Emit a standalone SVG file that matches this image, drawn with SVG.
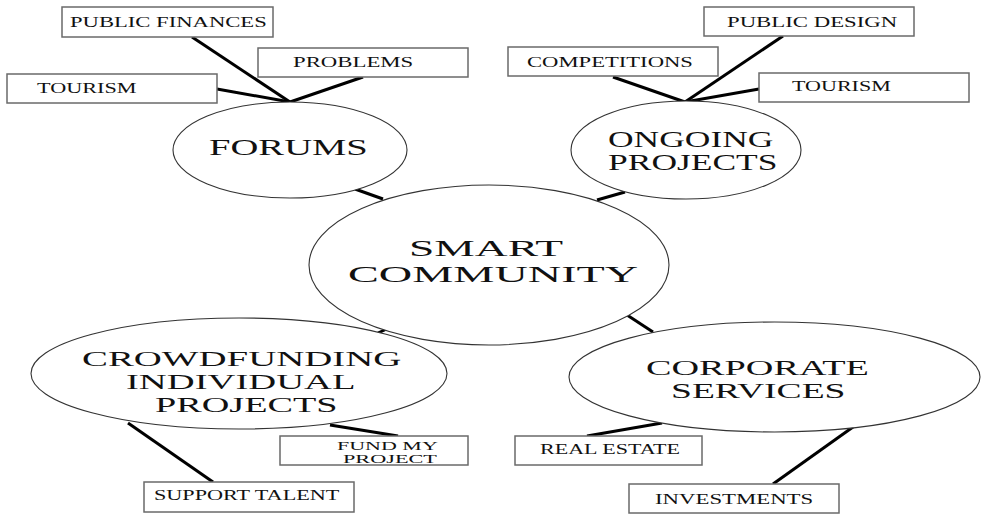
<svg xmlns="http://www.w3.org/2000/svg" width="981" height="514" viewBox="0 0 981 514">
  <style>
    .bubble { fill: #ffffff; stroke: #333333; stroke-width: 1.1; }
    .box { fill: #ffffff; stroke: #6a6a6a; stroke-width: 1.5; }
    .link { stroke: #000000; stroke-width: 3; stroke-linecap: butt; fill: none; }
    text { font-family: "Liberation Serif", "Times New Roman", serif; fill: #111111; }
    .big { font-size: 23px; }
    .mid { font-size: 21px; }
    .tall { font-size: 23.5px; }
    .small { font-size: 15px; }
    .tiny { font-size: 12.5px; }
  </style>
  <rect x="0" y="0" width="981" height="514" fill="#ffffff"/>

  <!-- connectors -->
  <g id="connectors">
    <line class="link" x1="192" y1="37" x2="290" y2="102"/>
    <line class="link" x1="363" y1="77" x2="290" y2="102"/>
    <line class="link" x1="217" y1="89" x2="290" y2="102"/>
    <line class="link" x1="613" y1="77" x2="685" y2="102"/>
    <line class="link" x1="783" y1="36" x2="685" y2="102"/>
    <line class="link" x1="759" y1="89" x2="685" y2="102"/>
    <line class="link" x1="355" y1="189" x2="383" y2="199"/>
    <line class="link" x1="625" y1="192" x2="597" y2="200"/>
    <line class="link" x1="378" y1="333" x2="391" y2="327"/>
    <line class="link" x1="627" y1="315" x2="653" y2="332"/>
    <line class="link" x1="330" y1="425" x2="398" y2="436"/>
    <line class="link" x1="128" y1="423" x2="213" y2="482"/>
    <line class="link" x1="662" y1="423" x2="587" y2="436"/>
    <line class="link" x1="853" y1="427" x2="773" y2="484"/>
  </g>

  <!-- central node -->
  <g id="smart-community">
    <ellipse class="bubble" cx="489" cy="265" rx="180" ry="80"/>
    <text class="big" transform="translate(409 256) scale(1.98 1)">SMART</text>
    <text class="big" transform="translate(348 282) scale(2.01 1)">COMMUNITY</text>
  </g>

  <g id="forums">
    <ellipse class="bubble" cx="290" cy="150" rx="117" ry="48"/>
    <text class="big" transform="translate(209 155) scale(1.68 1)">FORUMS</text>
  </g>

  <g id="ongoing-projects">
    <ellipse class="bubble" cx="686" cy="150" rx="115" ry="49"/>
    <text class="tall" transform="translate(608 147) scale(1.51 1)">ONGOING</text>
    <text class="tall" transform="translate(608 170) scale(1.51 1)">PROJECTS</text>
  </g>

  <g id="crowdfunding">
    <ellipse class="bubble" cx="239" cy="373.5" rx="208" ry="55.5"/>
    <text class="mid" transform="translate(82 366) scale(1.85 1)">CROWDFUNDING</text>
    <text class="mid" transform="translate(126 388.5) scale(1.84 1)">INDIVIDUAL</text>
    <text class="mid" transform="translate(155 412) scale(1.82 1)">PROJECTS</text>
  </g>

  <g id="corporate-services">
    <ellipse class="bubble" cx="774.5" cy="377" rx="205.5" ry="55"/>
    <text class="mid" transform="translate(646 375) scale(1.82 1)">CORPORATE</text>
    <text class="mid" transform="translate(671 398) scale(1.79 1)">SERVICES</text>
  </g>

  <!-- leaf boxes -->
  <g id="public-finances">
    <rect class="box" x="62" y="7" width="211" height="30"/>
    <text class="small" transform="translate(70 27) scale(1.51 1)">PUBLIC FINANCES</text>
  </g>
  <g id="problems">
    <rect class="box" x="258" y="48" width="210" height="29"/>
    <text class="small" transform="translate(293 67) scale(1.52 1)">PROBLEMS</text>
  </g>
  <g id="tourism-forums">
    <rect class="box" x="7" y="74" width="210" height="29"/>
    <text class="small" transform="translate(37 93) scale(1.48 1)">TOURISM</text>
  </g>
  <g id="public-design">
    <rect class="box" x="704" y="7" width="210" height="29"/>
    <text class="small" transform="translate(727 27) scale(1.52 1)">PUBLIC DESIGN</text>
  </g>
  <g id="competitions">
    <rect class="box" x="508" y="47" width="210" height="29"/>
    <text class="small" transform="translate(527 67) scale(1.51 1)">COMPETITIONS</text>
  </g>
  <g id="tourism-projects">
    <rect class="box" x="759" y="73" width="210" height="29"/>
    <text class="small" transform="translate(792 91) scale(1.47 1)">TOURISM</text>
  </g>
  <g id="fund-my-project">
    <rect class="box" x="280" y="436" width="188" height="29"/>
    <text class="tiny" transform="translate(337 450) scale(1.76 1)">FUND MY</text>
    <text class="tiny" transform="translate(343 463) scale(1.78 1)">PROJECT</text>
  </g>
  <g id="support-talent">
    <rect class="box" x="144" y="482" width="210" height="30"/>
    <text class="small" transform="translate(154 500) scale(1.48 1)">SUPPORT TALENT</text>
  </g>
  <g id="real-estate">
    <rect class="box" x="515" y="436" width="187" height="29"/>
    <text class="small" transform="translate(540 454) scale(1.47 1)">REAL ESTATE</text>
  </g>
  <g id="investments">
    <rect class="box" x="629" y="484" width="210" height="29"/>
    <text class="small" transform="translate(655 504) scale(1.52 1)">INVESTMENTS</text>
  </g>
</svg>
